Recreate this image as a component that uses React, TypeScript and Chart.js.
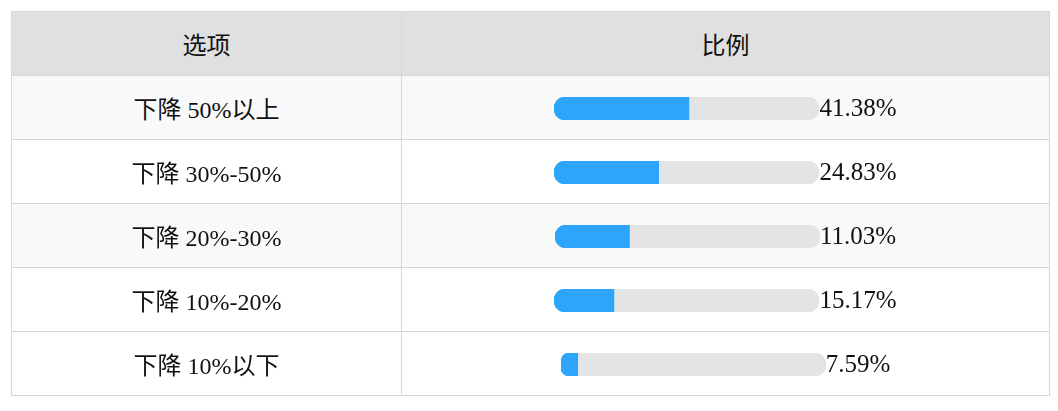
import React, { useEffect, useRef } from 'react';
import Chart from 'chart.js/auto';

const options = ['下降 50%以上', '下降 30%-50%', '下降 20%-30%', '下降 10%-20%', '下降 10%以下'];
const shares = [41.38, 24.83, 11.03, 15.17, 7.59];
// bar fill as drawn in the picture (percent of the track)
const barLevels = [50.9, 39.5, 28.1, 22.6, 6.3];
const shadedRows = [true, false, true, false, false];

const FONT = '"Liberation Serif", "Noto Sans CJK SC", serif';
const BORDER = '1px solid #d6d6d6';

const ProgressBar = ({ level, label }: { level: number; label: string }) => {
    const chartRef = useRef<HTMLCanvasElement>(null);

    useEffect(() => {
        if (!chartRef?.current) return;
        const ctx = chartRef.current.getContext('2d');
        if (!ctx) return;
        const myChart = new Chart(ctx, {
            type: 'bar',
            data: {
                labels: [label],
                datasets: [
                    {
                        data: [level],
                        backgroundColor: '#2da5fa',
                        borderRadius: { topLeft: 11.5, bottomLeft: 11.5, topRight: 0, bottomRight: 0 },
                        borderSkipped: false,
                        grouped: false,
                        order: 0,
                        barPercentage: 1,
                        categoryPercentage: 1,
                    },
                    {
                        data: [100],
                        backgroundColor: '#e3e4e6',
                        borderRadius: 11.5,
                        borderSkipped: false,
                        grouped: false,
                        order: 1,
                        barPercentage: 1,
                        categoryPercentage: 1,
                    },
                ],
            },
            options: {
                indexAxis: 'y',
                responsive: false,
                animation: false,
                layout: { padding: 0 },
                plugins: {
                    legend: { display: false },
                    tooltip: { enabled: false },
                },
                scales: {
                    x: { display: false, min: 0, max: 100 },
                    y: { display: false },
                },
            },
        });

        return () => {
            myChart.destroy();
        };
    }, [level, label]);

    return (
        <canvas
            ref={chartRef}
            width={265}
            height={23}
            style={{ display: 'inline-block', verticalAlign: 'middle', width: 265, height: 23 }}
        />
    );
};

const cell: React.CSSProperties = {
    border: BORDER,
    padding: 0,
    textAlign: 'center',
    verticalAlign: 'middle',
    height: 63,
};

const App = () => {
    return (
        <div style={{ paddingTop: 3, paddingLeft: 3 }}>
            <table
                style={{
                    borderCollapse: 'collapse',
                    tableLayout: 'fixed',
                    width: 1038,
                    fontFamily: FONT,
                    fontSize: 24,
                    color: '#111',
                }}
            >
                <colgroup>
                    <col style={{ width: 390 }} />
                    <col style={{ width: 648 }} />
                </colgroup>
                <thead>
                    <tr style={{ background: '#e0e0e0' }}>
                        <th style={{ ...cell, fontWeight: 'normal' }}>选项</th>
                        <th style={{ ...cell, fontWeight: 'normal' }}>比例</th>
                    </tr>
                </thead>
                <tbody>
                    {options.map((opt, i) => (
                        <tr key={opt} style={{ background: shadedRows[i] ? '#f9f9f9' : '#fff' }}>
                            <td style={cell}>{opt}</td>
                            <td style={{ ...cell, whiteSpace: 'nowrap' }}>
                                <ProgressBar level={barLevels[i]} label={opt} />
                                <span style={{ fontSize: 25, verticalAlign: 'middle' }}>
                                    {shares[i].toFixed(2) + '%'}
                                </span>
                            </td>
                        </tr>
                    ))}
                </tbody>
            </table>
        </div>
    );
};

export default App;
